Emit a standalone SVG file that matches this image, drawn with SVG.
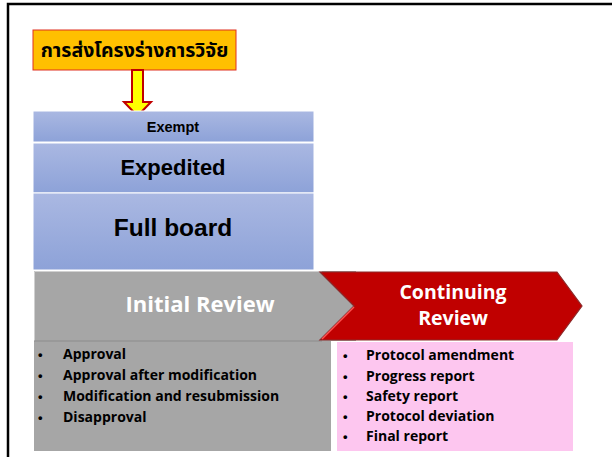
<svg xmlns="http://www.w3.org/2000/svg" width="612" height="457" viewBox="0 0 612 457">
<defs>
<linearGradient id="blue" x1="0" y1="0" x2="0" y2="1">
<stop offset="0" stop-color="#AAB8E2"/>
<stop offset="1" stop-color="#8DA2D8"/>
</linearGradient>
<style>
.b{font-family:"Open Sans",Lato,sans-serif;font-weight:bold;}
.a{font-family:"Liberation Sans",Arial,sans-serif;font-weight:bold;fill:#000;text-anchor:middle;}
.band{fill:url(#blue);stroke:#fff;stroke-width:1;}
.li{font-family:"Open Sans",Lato,sans-serif;font-weight:bold;font-size:14px;fill:#000;}
.dot{font-family:"Liberation Sans",sans-serif;font-size:13px;fill:#000;}
</style>
</defs>
<rect x="0" y="0" width="612" height="457" fill="#fff"/>
<path d="M8 457 V4 H612" fill="none" stroke="#000" stroke-width="2.5"/>

<g id="submit">
<rect x="33" y="30" width="203" height="40" fill="#FFC000" stroke="#E03020" stroke-width="1"/>
<text x="134.5" y="57" font-family="'Noto Sans','Noto Sans Thai','DejaVu Sans',sans-serif" font-weight="bold" font-size="19.5" fill="#000" text-anchor="middle">การส่งโครงร่างการวิจัย</text>
</g>

<g id="connectors">
<path d="M132 70 H143 V102 H151 L137.5 116 L124 102 H132 Z" fill="#FFFF00" stroke="#C00000" stroke-width="2" stroke-linejoin="miter"/>
</g>

<g id="exempt">
<rect class="band" x="33" y="111" width="281" height="31"/>
<text class="a" x="173" y="132" font-size="14.5">Exempt</text>
</g>
<g id="expedited">
<rect class="band" x="33" y="143" width="281" height="50"/>
<text class="a" x="173" y="175" font-size="22">Expedited</text>
</g>
<g id="fullboard">
<rect class="band" x="33" y="193" width="281" height="77"/>
<text class="a" x="173" y="236" font-size="24.5">Full board</text>
</g>

<g id="initial">
<rect x="34" y="271" width="322" height="70" fill="#A6A6A6"/>
<rect x="34" y="341" width="297" height="110" fill="#A6A6A6"/>
<path d="M34.5 341 V271.5 H322" fill="none" stroke="#D0D0D0" stroke-width="1"/>
<line x1="34" y1="341" x2="322" y2="341" stroke="#8C8C8C" stroke-width="1"/>
<text class="b" x="200" y="312" font-size="22" fill="#fff" text-anchor="middle">Initial Review</text>
<g class="li">
<text class="dot" x="38" y="359">•</text><text x="63" y="359">Approval</text>
<text class="dot" x="38" y="380">•</text><text x="63" y="380">Approval after modification</text>
<text class="dot" x="38" y="401">•</text><text x="63" y="401">Modification and resubmission</text>
<text class="dot" x="38" y="422">•</text><text x="63" y="422">Disapproval</text>
</g>
</g>

<g id="continuing">
<path d="M320 272 H557 L582 306 L557 340 H320 L354 306 Z" fill="#C00000" stroke="#8B2A2A" stroke-width="1.2"/>
<path d="M322 339 L354 307" stroke="#FF5050" stroke-width="1.5" fill="none"/>
<text class="b" x="453" y="299" font-size="19.5" fill="#fff" text-anchor="middle">Continuing</text>
<text class="b" x="453" y="325" font-size="19.5" fill="#fff" text-anchor="middle">Review</text>
<rect x="337" y="342" width="236" height="109" fill="#FDC6EF"/>
<g class="li">
<text class="dot" x="343" y="360">•</text><text x="366" y="360">Protocol amendment</text>
<text class="dot" x="343" y="381">•</text><text x="366" y="381">Progress report</text>
<text class="dot" x="343" y="401">•</text><text x="366" y="401">Safety report</text>
<text class="dot" x="343" y="421">•</text><text x="366" y="421">Protocol deviation</text>
<text class="dot" x="343" y="441">•</text><text x="366" y="441">Final report</text>
</g>
</g>
</svg>
